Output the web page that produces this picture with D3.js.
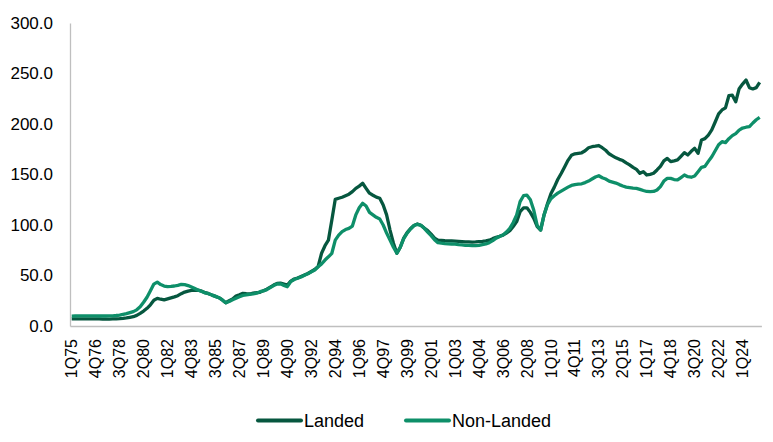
<!DOCTYPE html>
<html>
<head>
<meta charset="utf-8">
<script src="https://cdn.jsdelivr.net/npm/d3@7"></script>
<style>
  body { margin: 0; background: #fff; }
  svg text { font-family: "Liberation Sans", Arial, sans-serif; fill: #000; }
</style>
</head>
<body>
<div id="chart"></div>
<script>
// Quarters 1Q75 .. 2Q25
const quarters = [];
for (let y = 1975; y <= 2025; y++) {
    for (let q = 1; q <= 4; q++) {
        if (y === 2025 && q > 2) break;
        quarters.push(q + "Q" + String(y).slice(2));
    }
}

const tickLabels = ["1Q75","4Q76","3Q78","2Q80","1Q82","4Q83","3Q85","2Q87","1Q89","4Q90",
    "3Q92","2Q94","1Q96","4Q97","3Q99","2Q01","1Q03","4Q04","3Q06","2Q08","1Q10","4Q11",
    "3Q13","2Q15","1Q17","4Q18","3Q20","2Q22","1Q24"];

const yTicks = [0, 50, 100, 150, 200, 250, 300];

const landed = [
    7.0, 7.0, 7.0, 7.0,   7.0, 7.1, 7.1, 7.0,   7.0, 6.9, 6.9, 6.9,   7.0, 7.1, 7.3, 7.6,   // 75-78
    8.0, 8.6, 9.2, 10.5,  12.5, 14.8, 17.5, 21.0, 25.5, 27.4, 26.5, 25.8, 26.8, 27.8, 28.8, 30.0, // 79-82
    32.0, 33.6, 34.6, 35.3, 35.6, 35.4, 34.5, 33.0, 32.0, 30.6, 29.3, 28.0, 25.8, 23.0, 25.0, 26.8, // 83-86
    29.7, 31.0, 32.4, 32.0, 31.7, 32.5, 33.0, 33.3, 35.0, 36.5, 38.5, 40.5, 42.2, 42.5, 41.5, 40.5, // 87-90
    44.5, 46.5, 47.5, 49.0, 50.5, 52.0, 54.0, 56.0, 59.0, 72.0, 79.5, 85.0, 105.0, 125.4, 126.5, 127.5, // 91-94
    129.0, 130.5, 133.0, 136.3, 138.5, 141.3, 136.3, 131.5, 129.5, 127.6, 126.5, 119.8, 110.0, 95.0, 82.0, 72.0, // 95-98
    78.0, 87.0, 92.5, 96.5, 99.5, 101.0, 99.8, 97.0, 94.5, 91.0, 87.0, 85.0, 84.7, 84.4, 84.3, 84.2, // 99-02
    84.0, 83.8, 83.5, 83.2, 83.2, 83.0, 83.2, 83.5, 83.8, 84.2, 85.0, 86.5, 87.8, 88.8, 90.0, 92.0, // 03-06
    94.4, 98.5, 103.3, 113.2, 117.0, 117.0, 112.5, 106.5, 98.5, 95.0, 110.0, 121.0, 131.0, 137.5, 145.0, 151.0, // 07-10
    157.5, 164.0, 169.0, 170.5, 171.0, 171.5, 173.5, 176.5, 177.5, 178.0, 178.7, 176.5, 174.0, 170.5, 168.5, 166.5, // 11-14
    165.0, 163.8, 161.5, 159.5, 157.0, 155.0, 151.2, 152.8, 149.5, 150.2, 151.2, 154.5, 158.0, 163.5, 166.0, 162.7, // 15-18
    163.5, 164.4, 168.0, 171.6, 169.3, 173.0, 175.9, 171.0, 184.2, 185.5, 189.0, 194.1, 202.0, 210.0, 213.9, 216.0, // 19-22
    228.0, 228.5, 222.0, 235.0, 239.5, 243.6, 236.0, 234.7, 236.0, 241.3 // 23-2Q25
];

const nonLanded = [
    9.8, 9.9, 10.0, 10.0, 10.1, 10.1, 10.0, 10.0, 9.9, 9.9, 9.9, 10.0, 10.1, 10.4, 10.8, 11.5, // 75-78
    12.2, 13.2, 14.2, 16.0, 19.0, 23.5, 28.5, 35.0, 41.5, 43.5, 41.0, 39.6, 39.0, 39.2, 39.6, 40.3, // 79-82
    41.2, 41.0, 40.0, 38.5, 37.0, 35.5, 34.2, 32.8, 32.0, 30.6, 29.3, 28.0, 25.8, 23.0, 24.3, 26.0, // 83-86
    27.5, 29.0, 30.3, 30.8, 31.3, 31.7, 32.5, 34.0, 34.7, 36.0, 38.0, 40.0, 41.6, 41.8, 40.2, 38.9, // 87-90
    44.0, 46.0, 47.3, 48.5, 50.3, 51.8, 53.6, 55.5, 58.7, 61.5, 65.3, 68.5, 72.0, 85.0, 90.0, 93.4, // 91-94
    95.5, 96.7, 99.0, 110.0, 117.0, 121.5, 118.8, 112.5, 110.0, 107.6, 106.0, 100.0, 92.0, 85.0, 78.0, 72.0, // 95-98
    78.0, 86.5, 92.0, 96.0, 99.5, 100.7, 99.7, 96.7, 93.0, 89.5, 85.5, 82.5, 82.0, 81.6, 81.4, 81.2, // 99-02
    81.0, 80.6, 80.3, 79.9, 79.8, 79.6, 79.5, 79.8, 80.5, 81.2, 82.5, 84.5, 87.0, 88.5, 90.0, 93.0, // 03-06
    96.7, 102.5, 110.0, 123.1, 129.0, 129.5, 125.0, 114.5, 99.5, 95.0, 110.0, 120.0, 126.0, 129.0, 131.5, 133.5, // 07-10
    135.5, 137.5, 139.2, 140.0, 140.5, 140.8, 142.0, 143.5, 145.5, 147.5, 148.8, 146.8, 145.5, 143.5, 142.5, 141.5, // 11-14
    140.0, 138.6, 137.5, 137.0, 136.5, 136.3, 135.3, 134.2, 133.2, 133.0, 133.2, 134.7, 138.0, 143.5, 146.2, 146.2, // 15-18
    145.0, 144.6, 147.0, 149.5, 147.8, 147.3, 148.5, 152.8, 157.1, 158.0, 163.0, 167.6, 173.5, 179.5, 182.5, 181.5, // 19-22
    185.5, 188.5, 190.5, 194.0, 196.0, 196.8, 197.3, 201.0, 204.2, 206.6 // 23-2Q25
];

const series = [
    { name: "Landed", values: landed, color: "#06573f" },
    { name: "Non-Landed", values: nonLanded, color: "#0e8f69" }
];

const width = 773, height = 442;
const margin = { top: 23, right: 11.6, bottom: 116, left: 70 };

const svg = d3.select("#chart").append("svg")
    .attr("width", width)
    .attr("height", height);

const x = d3.scaleBand()
    .domain(quarters)
    .range([margin.left, width - margin.right])
    .padding(0);

const y = d3.scaleLinear()
    .domain([0, 300])
    .range([height - margin.bottom, margin.top]);

// y axis
const yAxis = svg.append("g")
    .attr("transform", "translate(" + margin.left + ",0)")
    .call(d3.axisLeft(y).tickValues(yTicks).tickSize(0).tickPadding(17).tickFormat(d3.format(".1f")));
yAxis.select(".domain").attr("stroke", "#bfbfbf").attr("stroke-width", 1.3);
yAxis.selectAll("text").attr("font-size", 17);

// x axis
const xAxis = svg.append("g")
    .attr("transform", "translate(0," + y(0) + ")")
    .call(d3.axisBottom(x).tickValues(tickLabels).tickSize(0));
xAxis.select(".domain").attr("stroke", "#bfbfbf").attr("stroke-width", 1.3);
xAxis.selectAll("text")
    .attr("font-size", 16)
    .attr("transform", "rotate(-90)")
    .attr("text-anchor", "end")
    .attr("x", -13)
    .attr("y", 0)
    .attr("dy", "0.35em");

const line = d3.line()
    .x((d, i) => x(quarters[i]) + x.bandwidth() / 2)
    .y(d => y(d));

series.forEach(s => {
    svg.append("path")
        .datum(s.values)
        .attr("fill", "none")
        .attr("stroke", s.color)
        .attr("stroke-width", 3.3)
        .attr("stroke-linejoin", "round")
        .attr("d", line);
});

// legend
const legend = svg.append("g").attr("transform", "translate(0,420.5)");
const legendX = [258, 406];
series.forEach((s, i) => {
    const g = legend.append("g").attr("transform", "translate(" + legendX[i] + ",0)");
    g.append("line")
        .attr("x1", 0).attr("x2", 43)
        .attr("stroke", s.color)
        .attr("stroke-width", 4)
        .attr("stroke-linecap", "round");
    g.append("text")
        .attr("x", 46)
        .attr("dy", "0.35em")
        .attr("font-size", 18)
        .text(s.name);
});
</script>
</body>
</html>
